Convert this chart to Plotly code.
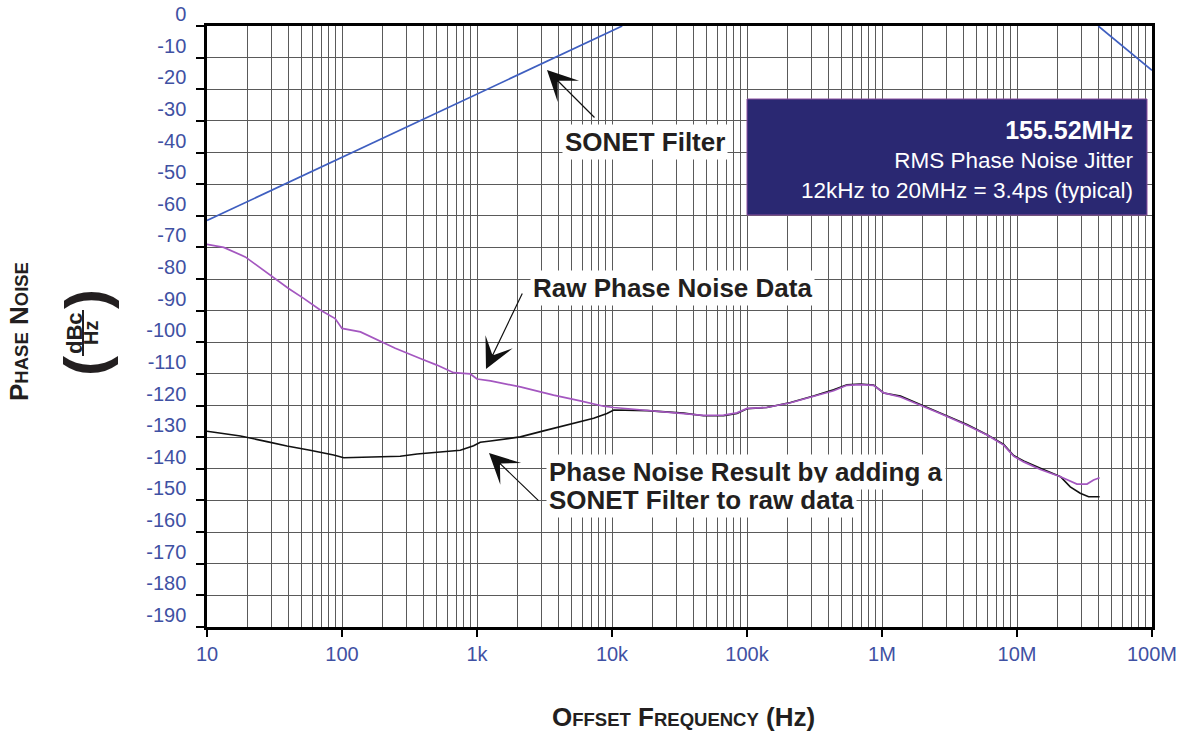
import plotly.graph_objects as go

# ---------------- data ----------------
sonet_hp_f = [10, 100, 1000, 10000, 11900]
sonet_hp_db = [-61.5, -41.5, -21.5, -1.5, 0.0]
sonet_lp_f = [40e6, 100e6]
sonet_lp_db = [0.0, -14.0]

raw_f = [10, 13.3, 19.2, 29.4, 40.2, 52, 69, 89, 100, 137, 198, 248, 380, 505, 671, 891, 1000,
         1260, 2094, 3690, 5820, 8670, 10280, 15300, 24100, 33900, 47700, 67100, 84300, 100000,
         140000, 210000, 311000, 438000, 550000, 690000, 867000, 1.03e6, 1.37e6, 1.92e6, 2.7e6,
         4.26e6, 6e6, 7.97e6, 9.44e6, 11.2e6, 14.9e6, 21e6, 23.5e6, 27.8e6, 33e6, 36.9e6, 40.9e6]
raw_db = [-69.0, -70.0, -73.0, -78.8, -83.0, -86.1, -89.8, -92.5, -95.6, -96.7, -99.8, -101.9,
          -105.1, -107.2, -109.6, -110.0, -111.6, -112.2, -114.1, -116.7, -118.5, -120.2, -120.6,
          -121.2, -122.0, -122.5, -123.1, -123.0, -122.3, -120.9, -120.6, -119.1, -117.2, -115.3,
          -113.6, -113.4, -113.6, -116.0, -117.3, -119.8, -122.5, -126.2, -129.3, -132.5, -136.0,
          -137.8, -140.2, -142.5, -143.5, -144.8, -144.8, -143.5, -142.8]

res_f = [10, 17.7, 27.8, 39.1, 58, 86.7, 103, 192, 270, 360, 535, 752, 944, 1057, 1260, 1400,
         2094, 3110, 4910, 7310, 9180, 10300, 18200, 33900, 47700, 67100, 84300, 100000, 140000,
         210000, 311000, 438000, 550000, 690000, 867000, 1.03e6, 1.37e6, 1.92e6, 2.7e6, 4.26e6,
         6e6, 7.97e6, 9.44e6, 11.2e6, 14.9e6, 21e6, 24.8e6, 29.4e6, 33.9e6, 40.9e6]
res_db = [-128.1, -129.6, -131.4, -132.8, -134.1, -135.6, -136.5, -136.2, -136.0, -135.3, -134.7,
          -134.1, -132.7, -131.6, -131.2, -130.9, -129.9, -128.0, -125.8, -124.0, -122.5, -121.4,
          -121.6, -122.4, -123.2, -123.2, -122.5, -121.0, -120.6, -119.0, -117.0, -115.0, -113.4,
          -113.2, -113.5, -116.0, -117.0, -119.7, -122.5, -126.0, -129.2, -132.3, -135.8, -137.5,
          -139.8, -142.5, -145.7, -147.7, -148.8, -148.8]

x_tickvals = [10, 100, 1e3, 1e4, 1e5, 1e6, 1e7, 1e8]
x_ticktext = ["10", "100", "1k", "10k", "100k", "1M", "10M", "100M"]
y_tickvals = list(range(0, -200, -10))
y_ticktext = [str(v) for v in y_tickvals]

# ---------------- layout geometry (reference pixel coords) ----------------
SW, SH = 1183, 735
L, R, T, B = 207, 1152, 26, 627
PW, PH = R - L, B - T


def px(x):
    return (x - L) / PW


def py(y):
    return (B - y) / PH


TXT = "#231f20"
BLUE = "#3f51a3"
GRID = "#5a5a5a"

fig = go.Figure()
fig.add_trace(go.Scatter(x=sonet_hp_f, y=sonet_hp_db, mode="lines",
                         line=dict(color="#3f5fc0", width=1.7), showlegend=False))
fig.add_trace(go.Scatter(x=sonet_lp_f, y=sonet_lp_db, mode="lines",
                         line=dict(color="#3f5fc0", width=1.7), showlegend=False))
fig.add_trace(go.Scatter(x=res_f, y=res_db, mode="lines",
                         line=dict(color="#111111", width=1.6), showlegend=False))
fig.add_trace(go.Scatter(x=raw_f, y=raw_db, mode="lines",
                         line=dict(color="#a457c0", width=1.7), showlegend=False))

fig.update_layout(
    width=SW, height=SH,
    margin=dict(l=L, r=SW - R, t=T, b=SH - B, autoexpand=False),
    paper_bgcolor="white", plot_bgcolor="white",
    font=dict(family="Liberation Sans, Arial, sans-serif", color=TXT),
    xaxis=dict(type="log", range=[1, 8], tickvals=x_tickvals, ticktext=x_ticktext,
               tickfont=dict(size=20, color=BLUE), ticks="outside", ticklen=7,
               tickcolor="black", tickwidth=1.5, ticklabeloverflow="allow",
               showline=True, linecolor="black", linewidth=2.5, mirror=True,
               showgrid=True, gridcolor=GRID, gridwidth=1.4,
               minor=dict(dtick="D1", showgrid=True, gridcolor=GRID, gridwidth=1.4),
               zeroline=False, fixedrange=True),
    yaxis=dict(range=[-190, 0], tickvals=y_tickvals, ticktext=y_ticktext,
               tickfont=dict(size=20, color=BLUE), ticks="outside", ticklen=8,
               tickcolor="black", tickwidth=1.5, ticklabelshift=-12, ticklabelstandoff=6,
               ticklabeloverflow="allow",
               showline=True, linecolor="black", linewidth=2.5, mirror=True,
               showgrid=True, gridcolor=GRID, gridwidth=1.4,
               zeroline=False, fixedrange=True),
)


def ann(x, y, text, **kw):
    d = dict(xref="paper", yref="paper", x=px(x), y=py(y), text=text, showarrow=False,
             xanchor="center", yanchor="middle")
    d.update(kw)
    fig.add_annotation(**d)


# info box
fig.add_shape(type="rect", xref="paper", yref="paper",
              x0=px(747), x1=px(1147), y0=py(215), y1=py(99),
              fillcolor="#2a2872", line=dict(color="#8a4f9e", width=1), layer="above")
ann(1136, 159, "<b><span style='font-size:25px'>155.52MHz</span></b><br>"
               "RMS Phase Noise Jitter<br>12kHz to 20MHz = 3.4ps (typical)",
    xanchor="right", align="right", font=dict(size=22.5, color="white"))

lab = dict(size=26, color=TXT)
ann(645, 142, "<b>SONET Filter</b>", font=lab, bgcolor="white", borderpad=2)
ann(530, 288, "<b>Raw Phase Noise Data</b>", xanchor="left", font=lab,
    bgcolor="white", borderpad=2)
ann(546, 472, "<b>Phase Noise Result by adding a</b>", xanchor="left", font=lab,
    bgcolor="white", borderpad=2)
ann(546, 500, "<b>SONET Filter to raw data</b>", xanchor="left", font=lab,
    bgcolor="white", borderpad=2)

# arrows (tip position, tail offset in pixels)
for tip, tail in [((547, 70), (596, 119)), ((486, 369), (523, 292)), ((489, 453), (540, 502))]:
    fig.add_annotation(xref="paper", yref="paper", x=px(tip[0]), y=py(tip[1]),
                       ax=tail[0] - tip[0], ay=tail[1] - tip[1], text="",
                       showarrow=True, arrowhead=3, arrowsize=4.2, arrowwidth=1.2,
                       arrowcolor="#111111")

# axis titles
sc = "font-size:18.5px"
ann(683, 717, f"<b>O<span style='{sc}'>FFSET</span> F<span style='{sc}'>REQUENCY</span> (Hz)</b>",
    font=dict(size=26, color=TXT))
ann(19, 332, f"<b>P<span style='{sc}'>HASE</span> N<span style='{sc}'>OISE</span></b>",
    textangle=-90, font=dict(size=26, color=TXT))
ann(86, 366, "<b>(</b>", textangle=-90, font=dict(size=60, color=TXT))
ann(86, 299, "<b>)</b>", textangle=-90, font=dict(size=60, color=TXT))
ann(74, 333, "<b>dBc</b>", textangle=-90, font=dict(size=22, color=TXT))
ann(91, 333, "<b>Hz</b>", textangle=-90, font=dict(size=20, color=TXT))
fig.add_shape(type="line", xref="paper", yref="paper", x0=px(83), x1=px(83),
              y0=py(356), y1=py(310), line=dict(color=TXT, width=2))

fig.write_html("out.html", post_script="document.body.style.margin='0px';",
               config={"displayModeBar": False})
